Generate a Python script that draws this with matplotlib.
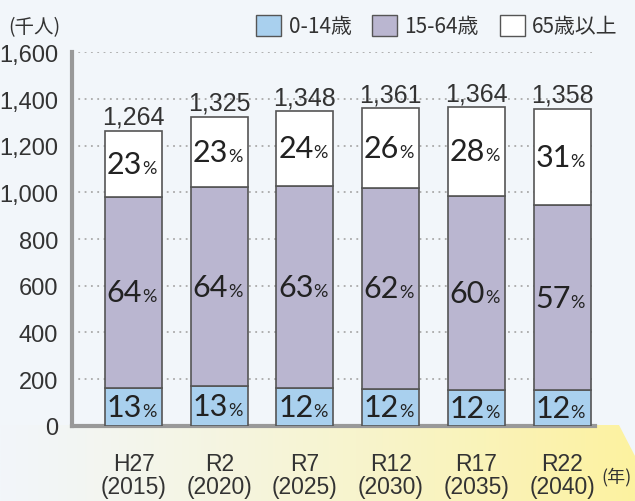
import matplotlib
matplotlib.use("Agg")
import matplotlib.pyplot as plt
import numpy as np
from matplotlib.patches import Patch, Polygon

# data (thousand people)
CATS = ["H27\n(2015)", "R2\n(2020)", "R7\n(2025)", "R12\n(2030)", "R17\n(2035)", "R22\n(2040)"]
TOTAL = [1264, 1325, 1348, 1361, 1364, 1358]
YOUNG = [162, 170, 163, 156, 153, 152]
WORK = [819, 851, 866, 864, 833, 793]
OLD = [283, 304, 319, 341, 378, 413]
YOUNG_PCT = [13, 13, 12, 12, 12, 12]
WORK_PCT = [64, 64, 63, 62, 60, 57]
OLD_PCT = [23, 23, 24, 26, 28, 31]
LEGEND = ["0-14歳", "15-64歳", "65歳以上"]

BG = "#f2f6fa"
C_YOUNG, C_WORK, C_OLD = "#a9d0ee", "#bab6d0", "#ffffff"
EDGE = "#555555"
TXT = "#333333"
NUM_FONT = ["Liberation Sans Narrow", "Liberation Sans", "DejaVu Sans"]
PCT_FONT = ["Lato", "DejaVu Sans"]
JP_FONT = ["Noto Sans CJK JP", "DejaVu Sans"]

W, H = 635, 502
fig = plt.figure(figsize=(W / 100, H / 100), dpi=100, facecolor=BG)

# yellow gradient band under the axis
bg = fig.add_axes([0, 0, 1, 1], zorder=-5)
bg.set_xlim(0, W); bg.set_ylim(H, 0); bg.axis("off")
c0 = np.array(matplotlib.colors.to_rgb(BG))
c1 = np.array(matplotlib.colors.to_rgb("#fdf2a0"))
t = np.linspace(0, 1, 256) ** 1.2
grad = (c0[None, :] * (1 - t[:, None]) + c1[None, :] * t[:, None])[None, :, :]
poly = Polygon([(0, 426), (619, 426), (635, 457), (635, 502), (0, 502)],
               closed=True, facecolor="none", edgecolor="none")
bg.add_patch(poly)
im = bg.imshow(grad, extent=(0, W, H, 426), aspect="auto")
im.set_clip_path(poly)

ax = fig.add_axes([72 / W, 1 - 426.7 / H, (595 - 72) / W, 373.3 / H])
ax.set_facecolor("none")
x = np.arange(len(CATS))
bw = 0.665
young = np.array(YOUNG); work = np.array(WORK); old = np.array(OLD)
ax.bar(x, young, bw, color=C_YOUNG, edgecolor=EDGE, lw=1.2, zorder=3)
ax.bar(x, work, bw, bottom=young, color=C_WORK, edgecolor=EDGE, lw=1.2, zorder=3)
ax.bar(x, old, bw, bottom=young + work, color=C_OLD, edgecolor=EDGE, lw=1.2, zorder=3)

ax.set_xlim(-0.718, 5.385)
ax.set_ylim(0, 1600)
ax.set_yticks(range(0, 1601, 200))
ax.set_yticklabels([f"{v:,}" for v in range(0, 1601, 200)], family=NUM_FONT,
                   fontsize=17, color=TXT)
ax.set_xticks(x)
ax.set_xticklabels(CATS, family=NUM_FONT, fontsize=16.5, color=TXT,
                   linespacing=1.0)
ax.tick_params(axis="y", length=0, pad=10)
ax.tick_params(axis="x", length=0, pad=19)
ax.yaxis.grid(True, linestyle=(0, (1, 2.5)), color="#aaaaaa", lw=1.3, zorder=0)
ax.set_axisbelow(True)
for s in ("top", "right"):
    ax.spines[s].set_visible(False)
for s in ("left", "bottom"):
    ax.spines[s].set_color("#999999")
    ax.spines[s].set_linewidth(3)


def pct_label(xc, yc, val):
    ax.text(xc + 0.1, yc - 38, str(val), ha="right", va="baseline", fontsize=22,
            family=PCT_FONT, color="#222222", zorder=5)
    ax.text(xc + 0.1, yc - 38, "%", ha="left", va="baseline", fontsize=13,
            family=PCT_FONT, color="#222222", zorder=5)


for i in x:
    pct_label(i, young[i] / 2, YOUNG_PCT[i])
    pct_label(i, young[i] + work[i] / 2, WORK_PCT[i])
    pct_label(i, young[i] + work[i] + old[i] / 2, OLD_PCT[i])
    ax.text(i, TOTAL[i] + 8, f"{TOTAL[i]:,}", ha="center", va="bottom",
            fontsize=18, family=NUM_FONT, color=TXT, zorder=5)

fig.text(8 / W, 1 - 28 / H, "(千人)", ha="left", va="center", fontsize=14,
         family=JP_FONT, color=TXT)
fig.text(601 / W, 1 - 477 / H, "(年)", ha="left", va="center", fontsize=13,
         family=JP_FONT, color=TXT)

handles = [Patch(facecolor=c, edgecolor=EDGE, lw=1.0) for c in (C_YOUNG, C_WORK, C_OLD)]
fig.legend(handles, LEGEND, loc="center", bbox_to_anchor=(437 / W, 1 - 27 / H),
           ncol=3, frameon=False, prop={"family": JP_FONT, "size": 15},
           handlelength=1.2, handleheight=1.2, handletextpad=0.35,
           columnspacing=1.0, labelcolor=TXT, borderaxespad=0)

fig.savefig("out.png", dpi=100, facecolor=BG)
